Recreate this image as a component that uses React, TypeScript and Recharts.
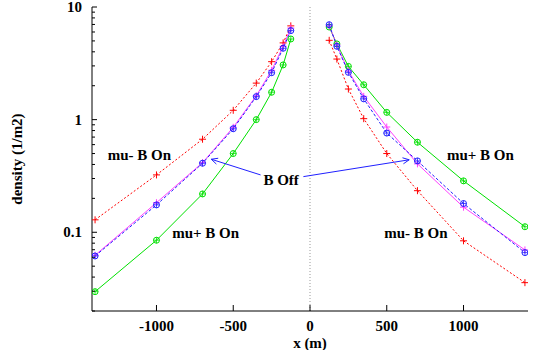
import React from 'react';
import { LineChart, Line, XAxis, YAxis, ReferenceLine, ReferenceDot } from 'recharts';

// ---- data ----
const xLeft = [-1400, -1000, -700, -500, -350, -250, -175, -125];
const xRight = [125, 175, 250, 350, 500, 700, 1000, 1400];

const muMinusOnLeft = [0.129, 0.323, 0.67, 1.21, 2.11, 3.27, 4.8, 6.8];
const bOffLeft = [0.0616, 0.175, 0.41, 0.83, 1.6, 2.61, 4.3, 6.17];
const bOff2Left = [0.0625, 0.183, 0.415, 0.855, 1.63, 2.74, 4.48, 6.5];
const muPlusOnLeft = [0.0297, 0.085, 0.219, 0.5, 1.0, 1.75, 3.06, 5.2];

const muMinusOnRight = [5.06, 3.45, 1.87, 1.02, 0.5, 0.234, 0.084, 0.0357];
const bOffRight = [6.96, 4.48, 2.63, 1.53, 0.76, 0.43, 0.18, 0.066];
const bOff2Right = [6.8, 4.6, 2.7, 1.61, 0.86, 0.405, 0.167, 0.0697];
const muPlusOnRight = [6.64, 4.7, 2.97, 2.04, 1.16, 0.63, 0.286, 0.112];

const xTicks = [-1000, -500, 0, 500, 1000];
const yMajor = [0.1, 1, 10];
const yTicks = [
  0.02, 0.03, 0.04, 0.05, 0.06, 0.07, 0.08, 0.09,
  0.1, 0.2, 0.3, 0.4, 0.5, 0.6, 0.7, 0.8, 0.9,
  1, 2, 3, 4, 5, 6, 7, 8, 9, 10,
];

const annotations = [
  { x: -1111, y: 0.486, text: 'mu- B On' },
  { x: -680, y: 0.0986, text: 'mu+ B On' },
  { x: -188, y: 0.289, text: 'B Off' },
  { x: 1110, y: 0.486, text: 'mu+ B On' },
  { x: 690, y: 0.0986, text: 'mu- B On' },
];
const arrows = [
  { from: { x: -322, y: 0.323 }, to: { x: -643, y: 0.445 } },
  { from: { x: -43, y: 0.312 }, to: { x: 646, y: 0.44 } },
];

const mk = (xs: number[], ys: number[]) => xs.map((x, i) => ({ x, y: ys[i] }));

const FONT = '"Liberation Serif", "Times New Roman", serif';
const RED = '#ff0000';
const GREEN = '#00e000';
const BLUE = '#2020ff';
const MAGENTA = '#ff40ff';

const PlusDot = (color: string) => (p: any) => {
  const { cx, cy, key } = p;
  if (cx == null || cy == null) return <g key={key} />;
  const s = 3.5;
  return (
    <g key={key}>
      <line x1={cx - s} x2={cx + s} y1={cy} y2={cy} stroke={color} strokeWidth={1} />
      <line x1={cx} x2={cx} y1={cy - s} y2={cy + s} stroke={color} strokeWidth={1} />
    </g>
  );
};

const CircleDot = (color: string) => (p: any) => {
  const { cx, cy, key } = p;
  if (cx == null || cy == null) return <g key={key} />;
  const r = 3;
  return (
    <g key={key}>
      <circle cx={cx} cy={cy} r={r} fill="none" stroke={color} strokeWidth={1} />
      <line x1={cx - r} x2={cx + r} y1={cy} y2={cy} stroke={color} strokeWidth={0.8} />
      <line x1={cx} x2={cx} y1={cy - r} y2={cy + r} stroke={color} strokeWidth={0.8} />
    </g>
  );
};

const LeftTick = (p: any) => {
  const { x, y, payload } = p;
  const v = payload.value;
  const major = yMajor.some((m) => Math.abs(m - v) < 1e-9);
  return (
    <g>
      <line x1={x} x2={x + (major ? 5 : 3)} y1={y} y2={y} stroke="#000" strokeWidth={1} />
      {major && (
        <text x={x - 10} y={y + 5} textAnchor="end" fontFamily={FONT} fontWeight="bold" fontSize={15} fill="#000">
          {String(v)}
        </text>
      )}
    </g>
  );
};

const RightTick = (p: any) => {
  const { x, y, payload } = p;
  const v = payload.value;
  const major = yMajor.some((m) => Math.abs(m - v) < 1e-9);
  return <line x1={x} x2={x - (major ? 5 : 3)} y1={y} y2={y} stroke="#000" strokeWidth={1} />;
};

const BottomTick = (p: any) => {
  const { x, y, payload } = p;
  return (
    <g>
      <line x1={x} x2={x} y1={y} y2={y - 6} stroke="#000" strokeWidth={1} />
      <text x={x} y={y + 20} textAnchor="middle" fontFamily={FONT} fontWeight="bold" fontSize={15} fill="#000">
        {String(payload.value)}
      </text>
    </g>
  );
};

const TopTick = (p: any) => {
  const { x, y } = p;
  return <line x1={x} x2={x} y1={y} y2={y + 6} stroke="#000" strokeWidth={1} />;
};

const ArrowShape = (p: any) => {
  const { x1, y1, x2, y2 } = p;
  const ang = Math.atan2(y2 - y1, x2 - x1);
  const L = 7;
  const spread = 0.45;
  const ax = x2 - L * Math.cos(ang - spread);
  const ay = y2 - L * Math.sin(ang - spread);
  const bx = x2 - L * Math.cos(ang + spread);
  const by = y2 - L * Math.sin(ang + spread);
  return (
    <g>
      <line x1={x1} y1={y1} x2={x2} y2={y2} stroke={BLUE} strokeWidth={1} />
      <polyline points={`${ax},${ay} ${x2},${y2} ${bx},${by}`} fill="none" stroke={BLUE} strokeWidth={1} />
    </g>
  );
};

const TextShape = (text: string) => (p: any) => (
  <text x={p.cx} y={p.cy + 5} textAnchor="middle" fontFamily={FONT} fontWeight="bold" fontSize={15} fill="#000">
    {text}
  </text>
);

const YTitle = (p: any) => {
  const vb = p.viewBox || { x: 0, y: 7, width: 92, height: 304 };
  const cx = 17;
  const cy = vb.y + vb.height / 2;
  return (
    <text x={cx} y={cy} transform={`rotate(-90, ${cx}, ${cy})`} textAnchor="middle" dominantBaseline="central"
      fontFamily={FONT} fontWeight="bold" fontSize={15} fill="#000">
      density (1/m2)
    </text>
  );
};

const XTitle = (p: any) => {
  const vb = p.viewBox || { x: 92, y: 311, width: 436, height: 39 };
  return (
    <text x={vb.x + vb.width / 2} y={vb.y + 37} textAnchor="middle"
      fontFamily={FONT} fontWeight="bold" fontSize={15} fill="#000">
      x (m)
    </text>
  );
};

const series = [
  { id: 'mmL', data: mk(xLeft, muMinusOnLeft), color: RED, dash: '2 2', dot: PlusDot(RED) },
  { id: 'mpL', data: mk(xLeft, muPlusOnLeft), color: GREEN, dash: undefined, dot: CircleDot(GREEN) },
  { id: 'b2L', data: mk(xLeft, bOff2Left), color: MAGENTA, dash: undefined, dot: PlusDot(MAGENTA) },
  { id: 'bL', data: mk(xLeft, bOffLeft), color: BLUE, dash: '3 2', dot: CircleDot(BLUE) },
  { id: 'mmR', data: mk(xRight, muMinusOnRight), color: RED, dash: '2 2', dot: PlusDot(RED) },
  { id: 'mpR', data: mk(xRight, muPlusOnRight), color: GREEN, dash: undefined, dot: CircleDot(GREEN) },
  { id: 'b2R', data: mk(xRight, bOff2Right), color: MAGENTA, dash: undefined, dot: PlusDot(MAGENTA) },
  { id: 'bR', data: mk(xRight, bOffRight), color: BLUE, dash: '3 2', dot: CircleDot(BLUE) },
];

export default function App() {
  return (
    <div style={{ position: 'absolute', left: 0, top: 0, width: 550, height: 350, background: '#fff' }}>
      <LineChart width={550} height={350} margin={{ top: 7, right: 22, bottom: 0, left: 0 }}>
        <XAxis
          xAxisId="b"
          dataKey="x"
          type="number"
          domain={[-1420, 1420]}
          allowDataOverflow
          ticks={xTicks}
          interval={0}
          height={39}
          tickSize={0}
          tickMargin={0}
          tickLine={false}
          axisLine={{ stroke: '#000', strokeWidth: 1 }}
          tick={<BottomTick />}
          label={<XTitle />}
        />
        <XAxis
          xAxisId="t"
          orientation="top"
          dataKey="x"
          type="number"
          domain={[-1420, 1420]}
          allowDataOverflow
          ticks={xTicks}
          interval={0}
          height={0}
          tickSize={0}
          tickMargin={0}
          tickLine={false}
          axisLine={{ stroke: '#000', strokeWidth: 1 }}
          tick={<TopTick />}
        />
        <YAxis
          yAxisId="l"
          scale="log"
          type="number"
          domain={[0.02, 10]}
          allowDataOverflow
          ticks={yTicks}
          interval={0}
          width={92}
          tickSize={0}
          tickMargin={0}
          tickLine={false}
          axisLine={{ stroke: '#000', strokeWidth: 1 }}
          tick={<LeftTick />}
          label={<YTitle />}
        />
        <YAxis
          yAxisId="r"
          orientation="right"
          scale="log"
          type="number"
          domain={[0.02, 10]}
          allowDataOverflow
          ticks={yTicks}
          interval={0}
          width={0}
          tickSize={0}
          tickMargin={0}
          tickLine={false}
          axisLine={{ stroke: '#000', strokeWidth: 1 }}
          tick={<RightTick />}
        />
        <ReferenceLine x={0} xAxisId="b" yAxisId="l" stroke="#999" strokeDasharray="1 2" strokeWidth={1} />
        {series.map((s) => (
          <Line
            key={s.id}
            xAxisId="b"
            yAxisId="l"
            data={s.data}
            dataKey="y"
            type="linear"
            stroke={s.color}
            strokeWidth={1}
            strokeDasharray={s.dash}
            dot={s.dot}
            activeDot={false}
            isAnimationActive={false}
          />
        ))}
        {arrows.map((a, i) => (
          <ReferenceLine
            key={'a' + i}
            xAxisId="b"
            yAxisId="l"
            segment={[a.from, a.to]}
            ifOverflow="visible"
            shape={ArrowShape}
          />
        ))}
        {annotations.map((a, i) => (
          <ReferenceDot
            key={'t' + i}
            xAxisId="b"
            yAxisId="l"
            x={a.x}
            y={a.y}
            r={1}
            ifOverflow="visible"
            shape={TextShape(a.text)}
          />
        ))}
      </LineChart>
    </div>
  );
}
